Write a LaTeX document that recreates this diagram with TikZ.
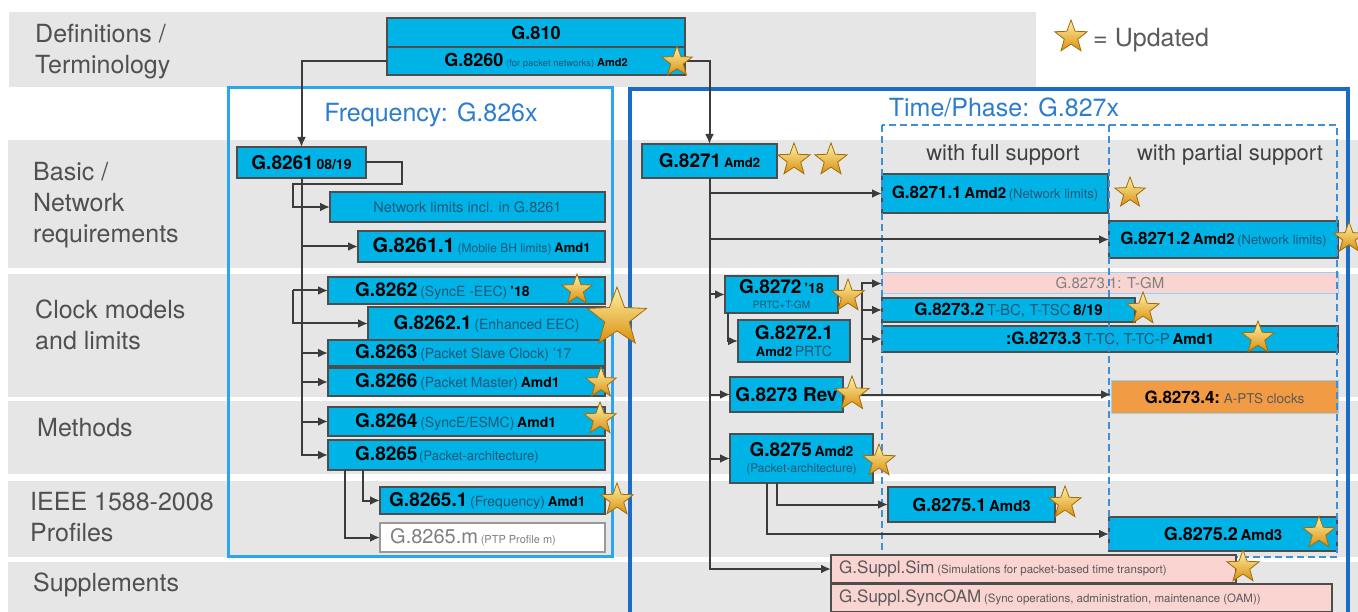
\documentclass[tikz,border=0pt]{standalone}
\usepackage{fontspec}
\setmainfont{TeX Gyre Heros}
\usetikzlibrary{shapes.geometric,arrows.meta}
\definecolor{band}{HTML}{E6E6E6}
\definecolor{lbl}{HTML}{505050}
\definecolor{cyanbox}{HTML}{00B3E6}
\definecolor{bord}{HTML}{4D4D4D}
\definecolor{ptxt}{HTML}{1D5878}
\definecolor{freqc}{HTML}{2AA6EC}
\definecolor{timec}{HTML}{1B6CC6}
\definecolor{dashc}{HTML}{3F8FD8}
\definecolor{titlec}{HTML}{2D7DCF}
\definecolor{pinkbox}{HTML}{F9D4D1}
\definecolor{orangebox}{HTML}{F29B45}
\definecolor{conn}{HTML}{3C3C3C}
\definecolor{starA}{HTML}{FFF2A8}
\definecolor{starB}{HTML}{D98F0F}
\definecolor{starD}{HTML}{A06C08}
\definecolor{graytxt}{HTML}{5A5A5A}
\newcommand\fs[1]{\fontsize{#1}{#1}\selectfont}
\newcommand\gB[2]{{\fs{#1}\bfseries #2}}
\newcommand\gP[2]{{\fs{#1}\color{ptxt}#2}}
\newcommand\bx[7][]{\node[box,#1,minimum width={#5-#3},minimum height={#6-#4}] (#2) at ({(#3+#5)/2},{(#4+#6)/2}) {#7};}
\newcommand\bxl[8][]{\bx[#1]{#2}{#3}{#4}{#5}{#6}{}\node[anchor=west,inner sep=0pt] at ([xshift=#7pt]#2.west) {#8};}
\tikzset{
 box/.style={draw=bord, line width=1.5pt, fill=cyanbox, inner sep=0pt, outer sep=0pt, text=black},
 pinkb/.style={fill=pinkbox},
 whiteb/.style={fill=white, draw=gray!80},
 arr/.style={draw=conn, line width=2pt, -{Latex[length=10pt,width=9pt]}},
 ln/.style={draw=conn, line width=2pt},
 updstar/.style={star, star points=5, star point ratio=2.4, inner sep=0pt, minimum size=#1, top color=starA, bottom color=starB, draw=starD, line width=0.8pt},
 rowlbl/.style={anchor=west, inner sep=0pt, align=left, text=lbl, font=\fontsize{25}{31}\selectfont},
 ttl/.style={inner sep=0pt, text=titlec, font=\fontsize{25}{25}\selectfont},
 sub/.style={inner sep=0pt, text=black!75, font=\fontsize{22}{22}\selectfont},
}
\begin{document}
\begin{tikzpicture}[x=1pt,y=-1pt]
\useasboundingbox (0,0) rectangle (1358,612);
\clip (0,0) rectangle (1358,612);
\fill[white] (0,0) rectangle (1358,612);
% bands
\fill[band] (9,12) rectangle (1036,87);
\fill[band] (8,140) rectangle (1358,268);
\fill[band] (8,274) rectangle (1358,397);
\fill[band] (8,401) rectangle (1358,474);
\fill[band] (8,481) rectangle (1358,557);
\fill[band] (8,562) rectangle (1358,612);
% row labels
\node[rowlbl] (L1) at (35,52) {Definitions /\\Terminology};
\node[rowlbl] (L2) at (33,205) {Basic /\\Network\\requirements};
\node[rowlbl] (L3) at (35,325) {Clock models\\and limits};
\node[rowlbl] (L4) at (37,428) {Methods};
\node[rowlbl] (L5) at (30,517) {IEEE 1588-2008\\Profiles};
\node[rowlbl] (L6) at (33,585) {Supplements};
% legend
\node[updstar=34pt] (legstar) at (1071,37) {};
\node[anchor=west, inner sep=0pt, text=graytxt, font=\fontsize{25}{25}\selectfont] (legtxt) at (1093,40) {= Updated};
% group frames
\draw[freqc, line width=3pt] (228,88) rectangle (612,556);
\draw[timec, line width=4pt] (630,89) rectangle (1348,640);
\node[ttl] (ftitle) at (431,115) {Frequency: G.826x};
\node[ttl] (ttitle) at (1004,107) {Time/Phase: G.827x};
\node[sub] (full) at (1003,155) {with full support};
\node[sub] (part) at (1230,155) {with partial support};
% definitions
\bx{G810}{387}{18}{685}{47}{\gB{18}{G.810}}
\bx{G8260}{387}{47}{685}{75}{\gB{18}{G.8260} \gP{9.5}{(for packet networks)} \gB{11}{Amd2}}
% frequency
\bx{G8261}{237}{147}{366}{178}{\gB{19}{G.8261} \gB{14}{08/19}}
\bx{NetLim}{330}{192}{605}{222}{\gP{14.5}{Network limits incl. in G.8261}}
\bx{G82611}{358}{231}{605}{262}{\gB{20}{G.8261.1} \gP{12}{(Mobile BH limits)} \gB{13}{Amd1}}
\bxl{G8262}{328}{277}{605}{304}{27}{\gB{19}{G.8262} \gP{14}{(SyncE -EEC)} \gB{14}{’18}}
\bx{G82621}{368}{307}{605}{340}{\gB{19}{G.8262.1} \gP{14}{(Enhanced EEC)}}
\bxl{G8263}{328}{340}{605}{366}{27}{\gB{19}{G.8263} \gP{14}{(Packet Slave Clock) ’17}}
\bxl{G8266}{328}{368}{605}{396}{27}{\gB{19}{G.8266} \gP{14}{(Packet Master)} \gB{14}{Amd1}}
\bxl{G8264}{328}{407}{605}{436}{27}{\gB{19}{G.8264} \gP{14}{(SyncE/ESMC)} \gB{14}{Amd1}}
\bxl{G8265}{328}{440}{605}{470}{27}{\gB{19}{G.8265}\,\gP{13}{(Packet-architecture)}}
\bxl{G82651}{380}{487}{605}{514}{9}{\gB{19}{G.8265.1} \gP{14}{(Frequency)} \gB{13.5}{Amd1}}
\bxl[whiteb]{G8265m}{380}{523}{605}{552}{10}{{\fs{20}\color{gray}G.8265.m} {\fs{11}\color{gray}(PTP Profile m)}}
% time/phase
\bx{G8271}{642}{144}{777}{178}{\gB{19}{G.8271} \gB{13}{Amd2}}
\bx{G82711}{882}{174}{1108}{213}{\gB{17}{G.8271.1} \gB{15}{Amd2} \gP{13}{(Network limits)}}
\bx{G82712}{1109}{221}{1338}{258}{\gB{17}{G.8271.2} \gB{15}{Amd2} \gP{13}{(Network limits)}}
\bx[pinkb, draw=freqc!50, line width=1pt]{G82731}{882}{273}{1338}{294}{{\fs{15}\color{gray}G.8273.1: T-GM}}
\bx{G82732}{882}{298}{1135}{322}{\gB{17}{G.8273.2} \gP{15}{T-BC, T-TSC} \gB{15}{8/19}}
\bx{G82733}{882}{326}{1338}{352}{\gB{17}{:G.8273.3} \gP{15}{T-TC, T-TC-P} \gB{15}{Amd1}}
\bx[fill=orangebox, draw=freqc!50, line width=1pt]{G82734}{1111}{381}{1338}{413}{\gB{17}{G.8273.4:} {\fs{13.5}\color{black!65}A-PTS clocks}}
\bx[align=center]{G8272}{725}{276}{838}{313}{\gB{19}{G.8272} \gB{14}{’18}\\[3pt]\gP{10}{PRTC+T-GM}}
\bx[align=center]{G82721}{738}{320}{850}{362}{\gB{19}{G.8272.1}\\[5pt]\gB{13}{Amd2} \gP{14}{PRTC}}
\bx{G8273}{730}{377}{843}{412}{\gB{19}{G.8273 Rev}}
\bx[align=center]{G8275}{730}{434}{873}{483}{\gB{19}{G.8275} \gB{14}{Amd2}\\[4pt]\gP{12}{(Packet-architecture)}}
\bx{G82751}{888}{487}{1055}{522}{\gB{18}{G.8275.1} \gB{15}{Amd3}}
\bx{G82752}{1109}{517}{1337}{551}{\gB{18}{G.8275.2} \gB{15}{Amd3}}
% dashed support frame
\draw[dashc, line width=2pt, dash pattern=on 7pt off 4pt] (882,125) rectangle (1337,557);
\draw[dashc, line width=2pt, dash pattern=on 7pt off 4pt] (1109,125) -- (1109,557);
% supplements
\bxl[pinkb]{Sim}{831}{555}{1236}{583}{8}{{\fs{17}\color{graytxt}G.Suppl.Sim} {\fs{11.5}\color{graytxt}(Simulations for packet-based time transport)}}
\bxl[pinkb]{OAM}{831}{584}{1332}{612}{8}{{\fs{17}\color{graytxt}G.Suppl.SyncOAM} {\fs{11.5}\color{graytxt}(Sync operations, administration, maintenance (OAM))}}
% connectors: definitions
\draw[arr] (G8260.west) -| (G8261.north);
\draw[arr] (G8260.east) -| (G8271.north);
% connectors: frequency
\draw[arr] (G8261.south) |- (G8265.west);
\draw[arr] (G8261.east) -- ++(36,0) -- ++(0,21.5) -- (293,184) |- (NetLim.west);
\draw[arr] (G8261.south |- G82611.west) -- (G82611.west);
\coordinate (brk) at ([xshift=-35pt]G8262.west);
\draw[arr] (brk) -- (G8262.west);
\draw[arr] (brk) |- (G82621.west);
\draw[arr] (G8261.south |- G8263.west) -- (G8263.west);
\draw[arr] (G8261.south |- G8266.west) -- (G8266.west);
\draw[arr] (G8261.south |- G8264.west) -- (G8264.west);
\draw[arr] ([xshift=35pt]G8265.south west) |- (G82651.west);
\draw[arr] ([xshift=17pt]G8265.south west) |- (G8265m.west);
% connectors: time/phase
\draw[arr] (G8271.south) |- (Sim.west);
\draw[arr] (G8271.south |- G82711.west) -- (G82711.west);
\draw[arr] (G8271.south |- G82712.west) -- (G82712.west);
\draw[arr] (G8271.south |- G8272.west) -- (G8272.west);
\draw[arr] (G8271.south |- G8273.west) -- (G8273.west);
\draw[arr] (G8271.south |- G8275.west) -- (G8275.west);
\draw[arr] ([xshift=3pt]G8272.south west) |- (G82721.west);
\draw[arr] (G8273.east) -- (G8273.east -| G82734.west);
\coordinate (bk) at (862,395);
\draw[arr] (bk) |- (G82731.west);
\draw[arr] (bk |- G82732.west) -- (G82732.west);
\draw[arr] (bk |- G82733.west) -- (G82733.west);
\draw[arr] ([xshift=47pt]G8275.south west) |- (G82751.west);
\draw[arr] ([xshift=37pt]G8275.south west) |- (G82752.west);
% stars
\node[updstar=32pt] (s0) at (677,62) {};
\node[updstar=34pt] (s1) at (794,160) {};
\node[updstar=34pt] (s2) at (831,160) {};
\node[updstar=32pt] (s3) at (1130,193) {};
\node[updstar=32pt] (s4) at (1349,238) {};
\node[updstar=34pt] (s5) at (848,296) {};
\node[updstar=34pt] (s6) at (1143,309) {};
\node[updstar=34pt] (s7) at (1258,338) {};
\node[updstar=36pt] (s8) at (852,394) {};
\node[updstar=34pt] (s9) at (879,461) {};
\node[updstar=34pt] (s10) at (1065,503) {};
\node[updstar=34pt] (s11) at (1319,533) {};
\node[updstar=34pt] (s12) at (1243,567) {};
\node[updstar=32pt] (s13) at (577,290) {};
\node[updstar=62pt] (s14) at (617,318) {};
\node[updstar=32pt] (s15) at (601,383) {};
\node[updstar=34pt] (s16) at (600,419) {};
\node[updstar=34pt] (s17) at (617,500) {};
\end{tikzpicture}
\end{document}
